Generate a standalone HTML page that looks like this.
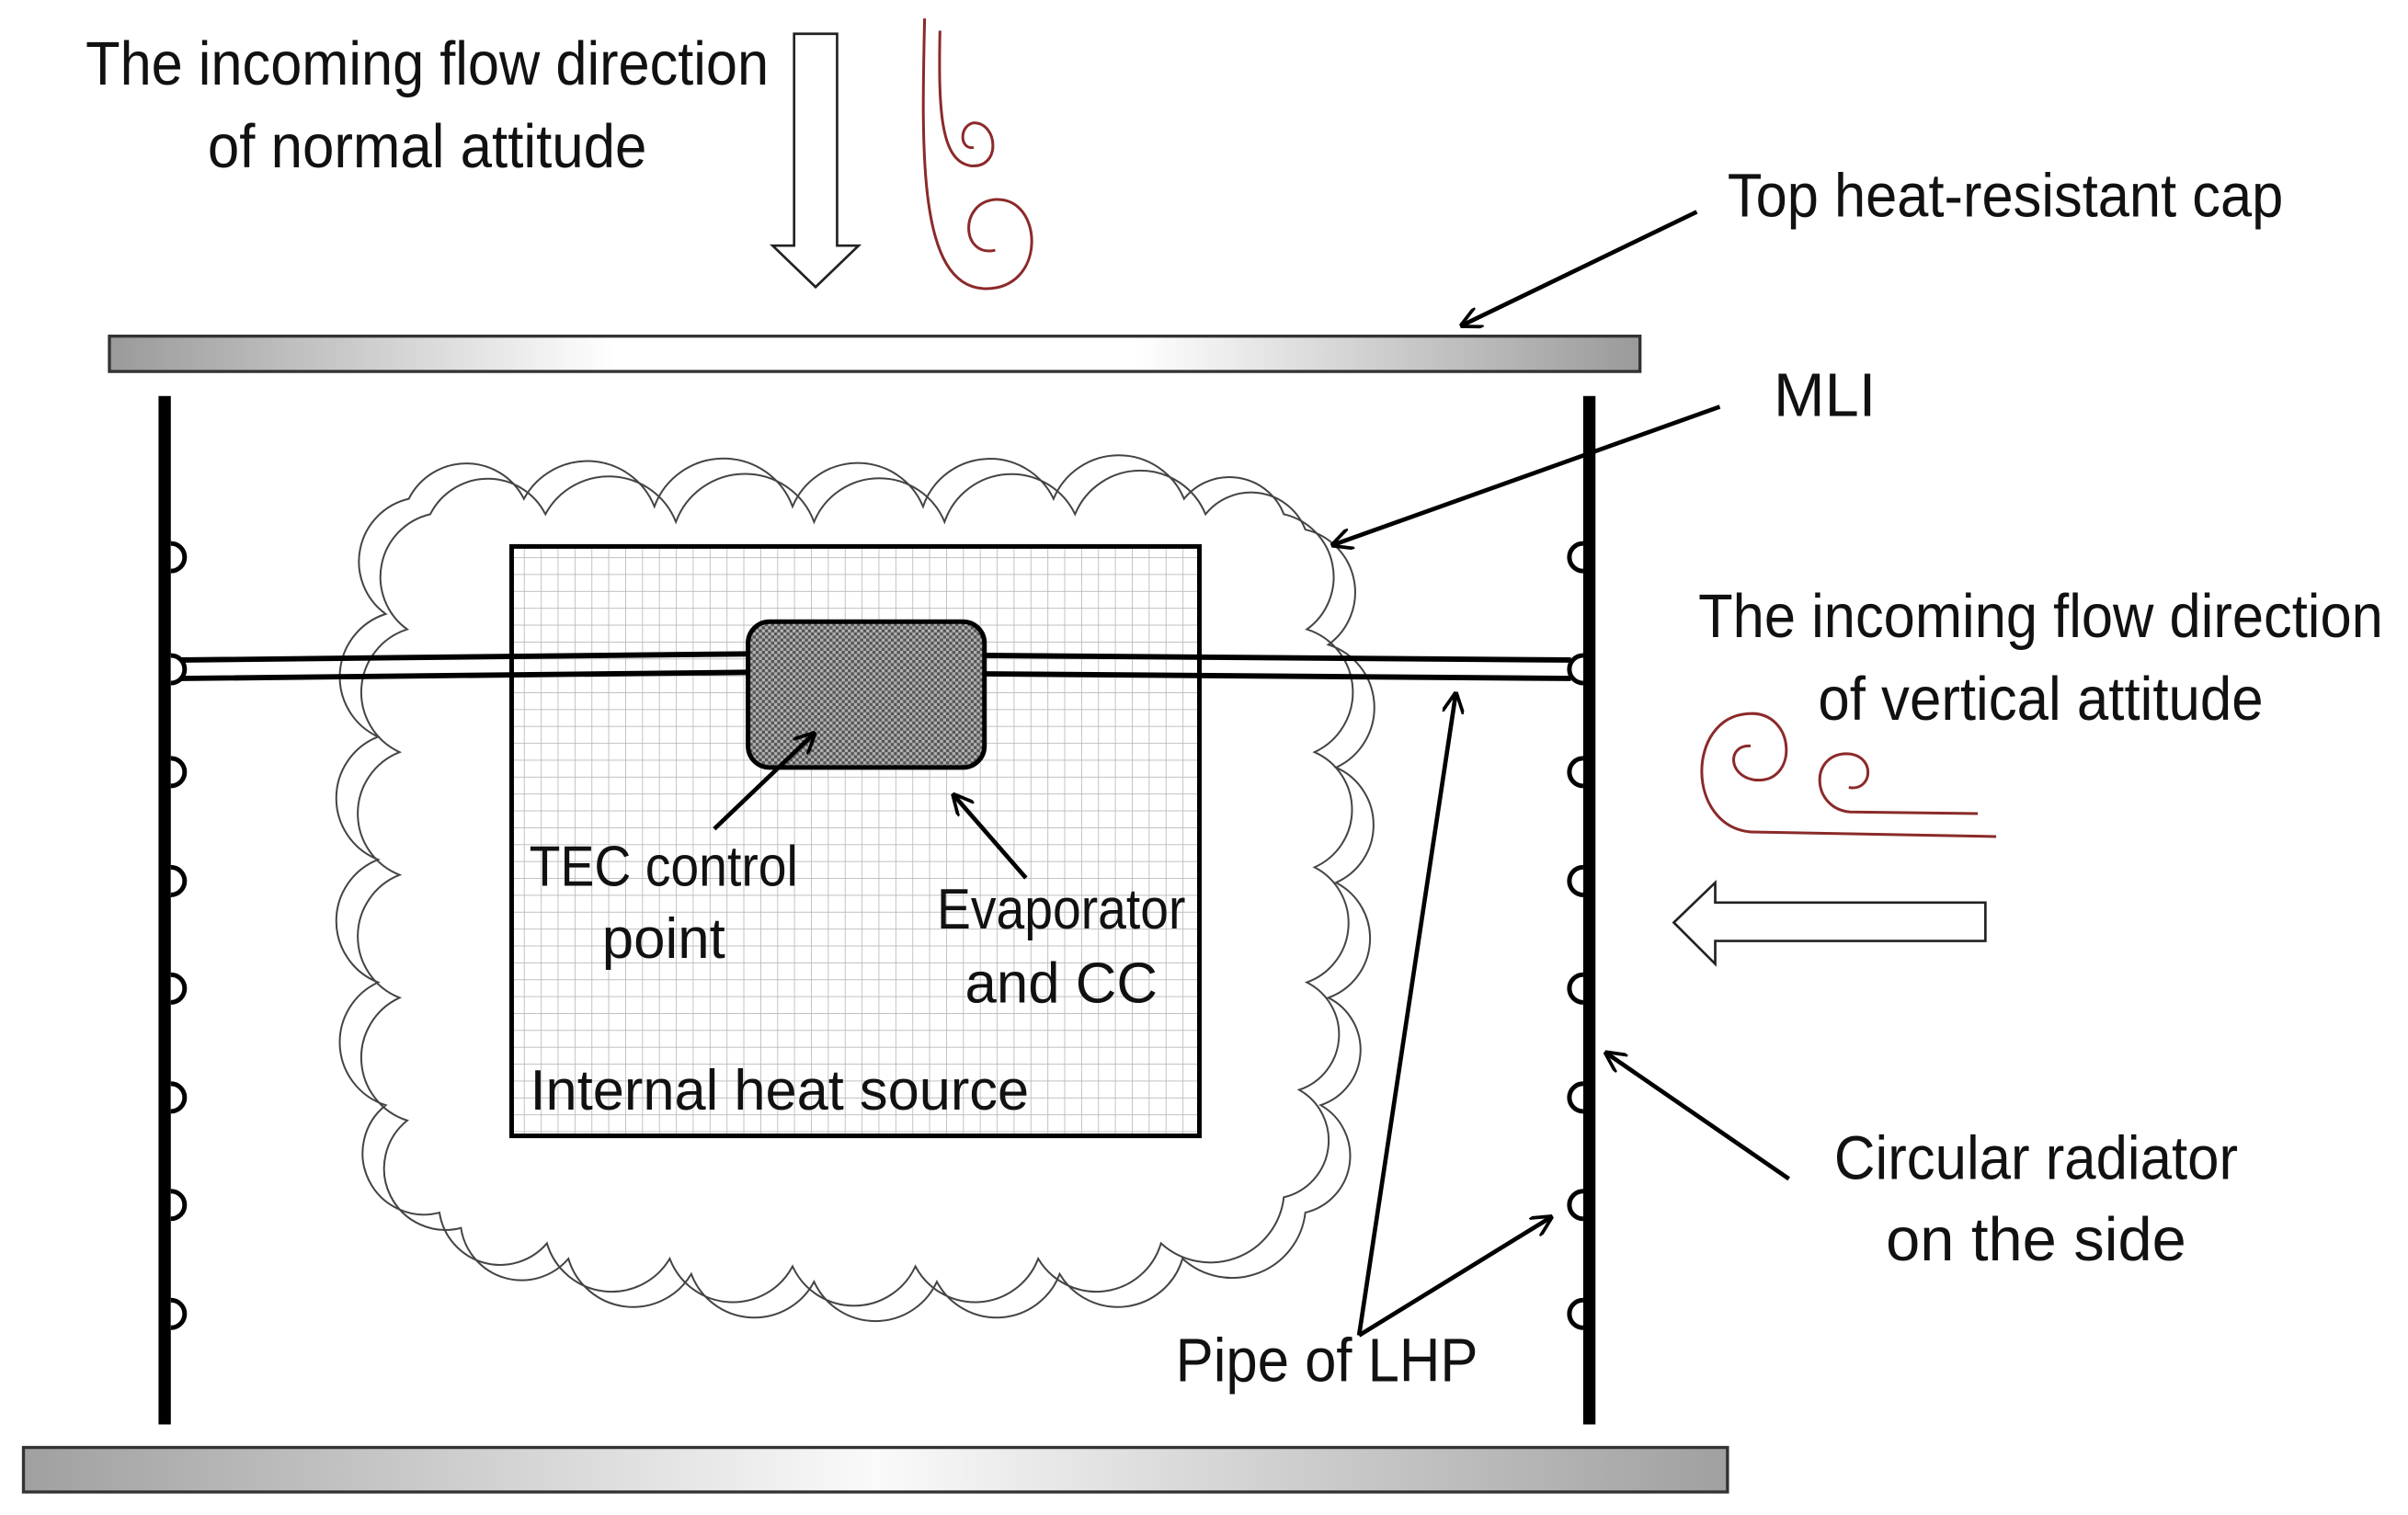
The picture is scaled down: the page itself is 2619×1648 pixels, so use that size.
<!DOCTYPE html>
<html><head><meta charset="utf-8"><style>
html,body{margin:0;padding:0;background:#fff}
svg{display:block}
text{font-family:"Liberation Sans Narrow","Liberation Sans",sans-serif;fill:#111}
</style></head><body>
<svg width="2619" height="1648" viewBox="0 0 1568 987" xmlns="http://www.w3.org/2000/svg">
<defs>
<linearGradient id="cap" x1="0" x2="1" y1="0" y2="0">
<stop offset="0" stop-color="#9a9a9a"/><stop offset="0.33" stop-color="#fff"/><stop offset="0.67" stop-color="#fff"/><stop offset="1" stop-color="#9a9a9a"/>
</linearGradient>
<linearGradient id="bot" x1="0" x2="1" y1="0" y2="0">
<stop offset="0" stop-color="#a0a0a0"/><stop offset="0.5" stop-color="#fafafa"/><stop offset="1" stop-color="#a0a0a0"/>
</linearGradient>
<pattern id="grid" width="11" height="11" patternUnits="userSpaceOnUse">
<rect width="11" height="11" fill="#fff"/><path d="M0 0H11M0 0V11" stroke="#b8b8b8" stroke-width="1"/>
</pattern>
<pattern id="evap" width="4" height="4" patternUnits="userSpaceOnUse">
<rect width="4" height="4" fill="#b0b0b0"/><rect width="2" height="2" fill="#555"/><rect x="2" y="2" width="2" height="2" fill="#555"/>
</pattern>
<marker id="ah" viewBox="0 0 10 10" refX="9" refY="5" markerWidth="14" markerHeight="14" orient="auto" markerUnits="userSpaceOnUse">
<path d="M0,0 L10,5 L0,10" fill="none" stroke="#000" stroke-width="1.6"/>
</marker>
</defs>

<text x="278" y="55" font-size="40" text-anchor="middle" textLength="445" lengthAdjust="spacingAndGlyphs">The incoming flow direction</text>
<text x="278" y="109" font-size="40" text-anchor="middle" textLength="286" lengthAdjust="spacingAndGlyphs">of normal attitude</text>

<path d="M517,22 H545 V160 H559 L531,187 L503,160 H517 Z" fill="#fff" stroke="#222" stroke-width="1.6"/>

<g fill="none" stroke="#8b2a2a" stroke-width="1.8">
<path d="M602,12 C600,100 598,185 640,188 C682,190 680,128 648,130 C624,132 626,168 648,163"/>
<path d="M612,20 C611,70 612,105 632,108 C652,110 650,80 634,80 C624,82 625,98 634,96"/>
</g>

<rect x="71" y="219" width="997" height="23" fill="url(#cap)" stroke="#333" stroke-width="2"/>
<rect x="15" y="943" width="1110" height="29" fill="url(#bot)" stroke="#333" stroke-width="2"/>

<rect x="103" y="258" width="8" height="670" fill="#000"/>
<rect x="1031" y="258" width="8" height="670" fill="#000"/>
<g fill="#fff" stroke="#000" stroke-width="3">
<path d="M111,354 a9,9 0 0 1 0,18"/><path d="M111,494 a9,9 0 0 1 0,18"/><path d="M111,565 a9,9 0 0 1 0,18"/><path d="M111,635 a9,9 0 0 1 0,18"/><path d="M111,706 a9,9 0 0 1 0,18"/><path d="M111,776 a9,9 0 0 1 0,18"/><path d="M111,847 a9,9 0 0 1 0,18"/><path d="M111,427 a9,9 0 0 1 0,18"/>
<path d="M1031,354 a9,9 0 0 0 0,18"/><path d="M1031,494 a9,9 0 0 0 0,18"/><path d="M1031,565 a9,9 0 0 0 0,18"/><path d="M1031,635 a9,9 0 0 0 0,18"/><path d="M1031,706 a9,9 0 0 0 0,18"/><path d="M1031,776 a9,9 0 0 0 0,18"/><path d="M1031,847 a9,9 0 0 0 0,18"/><path d="M1031,427 a9,9 0 0 0 0,18"/>
</g>

<g fill="none" stroke="#444" stroke-width="1.2" transform="translate(10,0)">
<path d="M270,335 A42,42 0 0 1 345,335 A47,47 0 0 1 430,340 A48,48 0 0 1 520,340 A46,46 0 0 1 605,340 A46,46 0 0 1 690,335 A46,46 0 0 1 775,335 A38,38 0 0 1 840,345 A42,42 0 0 1 855,420 A43,43 0 0 1 860,500 A41,41 0 0 1 860,575 A41,41 0 0 1 855,650 A38,38 0 0 1 850,720 A38,38 0 0 1 840,790 A48,48 0 0 1 760,820 A44,44 0 0 1 680,830 A44,44 0 0 1 600,835 A44,44 0 0 1 520,835 A44,44 0 0 1 440,830 A44,44 0 0 1 360,820 A40,40 0 0 1 290,800 A40,40 0 0 1 255,730 A43,43 0 0 1 250,650 A43,43 0 0 1 250,570 A43,43 0 0 1 250,490 A43,43 0 0 1 255,410 A42,42 0 0 1 270,335 Z"/>
<path transform="translate(-14,-10)" d="M270,335 A42,42 0 0 1 345,335 A47,47 0 0 1 430,340 A48,48 0 0 1 520,340 A46,46 0 0 1 605,340 A46,46 0 0 1 690,335 A46,46 0 0 1 775,335 A38,38 0 0 1 840,345 A42,42 0 0 1 855,420 A43,43 0 0 1 860,500 A41,41 0 0 1 860,575 A41,41 0 0 1 855,650 A38,38 0 0 1 850,720 A38,38 0 0 1 840,790 A48,48 0 0 1 760,820 A44,44 0 0 1 680,830 A44,44 0 0 1 600,835 A44,44 0 0 1 520,835 A44,44 0 0 1 440,830 A44,44 0 0 1 360,820 A40,40 0 0 1 290,800 A40,40 0 0 1 255,730 A43,43 0 0 1 250,650 A43,43 0 0 1 250,570 A43,43 0 0 1 250,490 A43,43 0 0 1 255,410 A42,42 0 0 1 270,335 Z"/>
</g>

<rect x="333" y="356" width="448" height="384" fill="url(#grid)" stroke="#000" stroke-width="3"/>

<path d="M118,430 L487,426 M118,442 L487,438 M641,427 L1023,430 M641,439 L1023,442" stroke="#000" stroke-width="3.5" fill="none"/>

<rect x="487" y="405" width="154" height="95" rx="14" fill="url(#evap)" stroke="#000" stroke-width="3"/>

<text x="432" y="577" font-size="37" text-anchor="middle" textLength="175" lengthAdjust="spacingAndGlyphs">TEC control</text>
<text x="432" y="624" font-size="37" text-anchor="middle">point</text>
<text x="691" y="605" font-size="37" text-anchor="middle" textLength="162" lengthAdjust="spacingAndGlyphs">Evaporator</text>
<text x="691" y="653" font-size="37" text-anchor="middle">and CC</text>
<text x="345" y="723" font-size="37" textLength="325" lengthAdjust="spacingAndGlyphs">Internal heat source</text>

<text x="1125" y="141" font-size="40" textLength="362" lengthAdjust="spacingAndGlyphs">Top heat-resistant cap</text>
<text x="1155" y="271" font-size="40">MLI</text>
<text x="1329" y="415" font-size="40" text-anchor="middle" textLength="446" lengthAdjust="spacingAndGlyphs">The incoming flow direction</text>
<text x="1329" y="469" font-size="40" text-anchor="middle" textLength="290" lengthAdjust="spacingAndGlyphs">of vertical attitude</text>
<text x="1326" y="768" font-size="40" text-anchor="middle" textLength="263" lengthAdjust="spacingAndGlyphs">Circular radiator</text>
<text x="1326" y="821" font-size="40" text-anchor="middle">on the side</text>
<text x="864" y="900" font-size="40" text-anchor="middle" textLength="197" lengthAdjust="spacingAndGlyphs">Pipe of LHP</text>

<g fill="none" stroke="#8b2a2a" stroke-width="1.8">
<path d="M1300,545 L1140,542 C1098,538 1098,468 1138,465 C1170,462 1172,512 1142,508 C1125,505 1125,485 1140,486"/>
<path d="M1288,530 L1205,529 C1180,527 1178,492 1202,491 C1222,491 1220,516 1204,513"/>
</g>

<path d="M1293,588 V613 H1117 V628 L1090,601 L1117,575 V588 Z" fill="#fff" stroke="#222" stroke-width="1.6"/>

<g stroke="#000" stroke-width="2.8" fill="none" marker-end="url(#ah)">
<line x1="1105" y1="138" x2="952" y2="212"/>
<line x1="1120" y1="265" x2="868" y2="355"/>
<line x1="1165" y1="768" x2="1046" y2="686"/>
<line x1="885" y1="870" x2="948" y2="452"/>
<line x1="885" y1="870" x2="1010" y2="793"/>
<line x1="465" y1="540" x2="530" y2="478"/>
<line x1="668" y1="572" x2="621" y2="518"/>
</g>
</svg>
</body></html>
